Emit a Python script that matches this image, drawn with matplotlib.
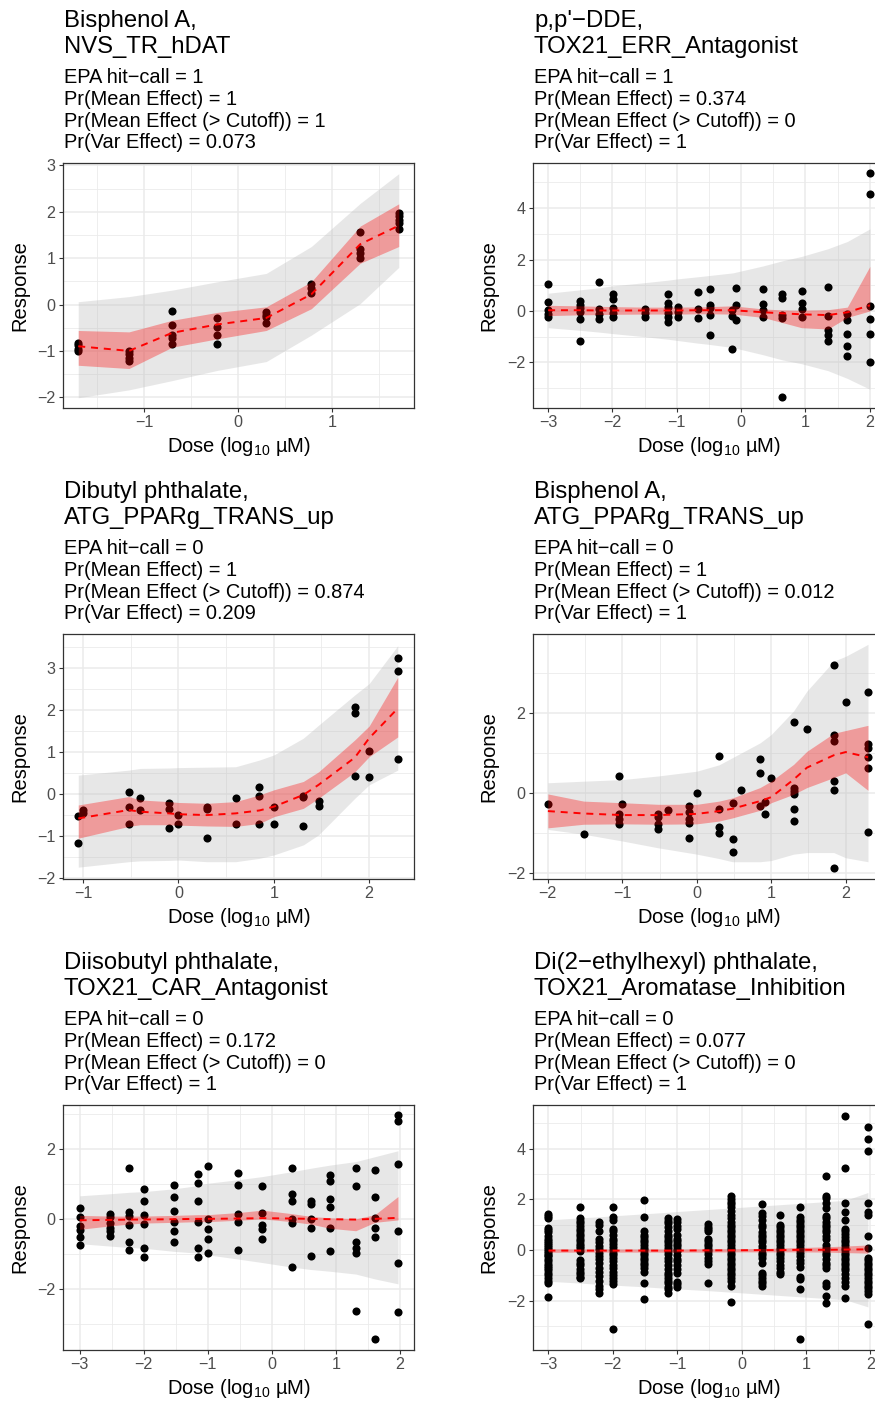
import matplotlib
matplotlib.use('Agg')
import matplotlib.pyplot as plt

plt.rcParams['font.family'] = ['Liberation Sans', 'DejaVu Sans']
plt.rcParams['mathtext.fontset'] = 'custom'
plt.rcParams['mathtext.rm'] = 'Liberation Sans'
plt.rcParams['mathtext.it'] = 'Liberation Sans:italic'
plt.rcParams['mathtext.bf'] = 'Liberation Sans:bold'
plt.rcParams['axes.unicode_minus'] = True

# ---------------- Panel 1: Bisphenol A, NVS_TR_hDAT ----------------
p1_title = ["Bisphenol A,", "NVS_TR_hDAT"]
p1_sub = ["EPA hit\u2212call = 1", "Pr(Mean Effect) = 1",
          "Pr(Mean Effect (> Cutoff)) = 1", "Pr(Var Effect) = 0.073"]
p1_levels = [-1.70, -1.16, -0.70, -0.22, 0.30, 0.78, 1.30, 1.71]
p1_resp = [[-0.82, -0.88, -0.95, -1.0],
           [-1.0, -1.07, -1.15, -1.22],
           [-0.14, -0.45, -0.65, -0.73, -0.86],
           [-0.30, -0.48, -0.66, -0.86],
           [-0.17, -0.22, -0.28, -0.40],
           [0.45, 0.36, 0.25],
           [1.56, 1.2, 1.12, 1.0],
           [1.97, 1.9, 1.82, 1.75, 1.62]]
p1_fx = [-1.70, -1.16, -0.70, -0.22, 0.30, 0.78, 1.30, 1.71]
p1_mean = [-0.90, -1.0, -0.61, -0.43, -0.29, 0.22, 1.30, 1.70]
p1_hi = [-0.56, -0.59, -0.34, -0.17, -0.05, 0.49, 1.69, 2.17]
p1_lo = [-1.31, -1.38, -0.92, -0.74, -0.56, -0.09, 0.89, 1.25]
p1_phi = [0.06, 0.17, 0.31, 0.49, 0.67, 1.25, 2.18, 2.82]
p1_plo = [-2.01, -1.84, -1.64, -1.42, -1.23, -0.66, 0.02, 0.80]

# ---------------- Panel 2: p,p'-DDE, TOX21_ERR_Antagonist ----------------
p2_title = ["p,p'\u2212DDE,", "TOX21_ERR_Antagonist"]
p2_sub = ["EPA hit\u2212call = 1", "Pr(Mean Effect) = 0.374",
          "Pr(Mean Effect (> Cutoff)) = 0", "Pr(Var Effect) = 1"]
p2_levels = [-3.0, -2.51, -2.21, -1.99, -1.50, -1.13, -0.98, -0.67, -0.49,
             -0.15, -0.08, 0.34, 0.64, 0.94, 1.35, 1.65, 2.0]
p2_resp = [[1.05, 0.35, 0.05, -0.1, -0.25],
           [0.38, 0.25, 0.1, -0.05, -0.3, -1.15],
           [1.14, 0.06, -0.12, -0.32],
           [0.65, 0.47, 0.1, -0.09, -0.22],
           [0.06, -0.09, -0.22],
           [0.66, 0.3, 0.17, -0.06, -0.22, -0.42],
           [0.17, -0.03, -0.22],
           [0.73, 0.06, -0.29],
           [0.84, 0.23, 0.1, -0.16, -0.94],
           [0.05, -0.2, -1.48],
           [0.88, 0.25, -0.35],
           [0.84, 0.27, 0.04, -0.22],
           [0.66, 0.49, -0.16, -0.29, -3.34],
           [0.78, 0.3, 0.06, -0.22],
           [0.95, -0.19, -0.74, -0.94, -1.16],
           [-0.13, -0.35, -0.91, -1.36, -1.75],
           [5.36, 4.56, 0.21, -0.32, -0.91, -1.97]]
p2_fx = [-3.0, -2.51, -2.21, -1.99, -1.5, -1.13, -0.98, -0.67, -0.49, -0.13,
         0.34, 0.64, 0.94, 1.35, 1.65, 2.0]
p2_mean = [0.03, 0.03, 0.02, 0.02, 0.02, 0.02, 0.02, 0.03, 0.03, 0.03,
           -0.05, -0.09, -0.13, -0.16, -0.05, 0.22]
p2_hi = [0.22, 0.2, 0.18, 0.17, 0.15, 0.15, 0.15, 0.16, 0.17, 0.2,
         0.08, 0.04, 0.03, 0.05, 0.15, 1.73]
p2_lo = [-0.18, -0.15, -0.14, -0.13, -0.12, -0.12, -0.12, -0.11, -0.11, -0.12,
         -0.25, -0.45, -0.65, -0.70, -0.25, 0.0]
p2_phi = [0.69, 0.82, 0.9, 0.98, 1.1, 1.2, 1.25, 1.33, 1.38, 1.48,
          1.75, 1.95, 2.12, 2.42, 2.7, 3.19]
p2_plo = [-0.65, -0.75, -0.82, -0.88, -1.0, -1.1, -1.15, -1.25, -1.3, -1.42,
          -1.7, -1.9, -2.05, -2.32, -2.62, -3.04]

# ---------------- Panel 3: Dibutyl phthalate, ATG_PPARg_TRANS_up ----------------
p3_title = ["Dibutyl phthalate,", "ATG_PPARg_TRANS_up"]
p3_sub = ["EPA hit\u2212call = 0", "Pr(Mean Effect) = 1",
          "Pr(Mean Effect (> Cutoff)) = 0.874", "Pr(Var Effect) = 0.209"]
p3_levels = [-1.05, -1.0, -0.52, -0.40, -0.10, 0.0, 0.30, 0.60, 0.85, 1.0,
             1.31, 1.47, 1.85, 2.0, 2.30]
p3_resp = [[-0.53, -1.18],
           [-0.40, -0.47],
           [0.05, -0.31, -0.73],
           [-0.10, -0.39],
           [-0.23, -0.36, -0.81],
           [-0.52, -0.73],
           [-0.31, -0.37, -1.05],
           [-0.10, -0.73],
           [0.15, -0.06, -0.73],
           [-0.31, -0.73],
           [-0.05, -0.09, -0.77],
           [-0.17, -0.29],
           [2.07, 1.91, 0.43],
           [1.01, 0.40],
           [3.22, 2.92, 0.82]]
p3_fx = [-1.05, -0.52, -0.40, -0.10, 0.0, 0.30, 0.60, 0.85, 1.0, 1.31, 1.47,
         1.85, 2.0, 2.30]
p3_mean = [-0.59, -0.39, -0.43, -0.47, -0.49, -0.51, -0.47, -0.40, -0.31,
           -0.03, 0.21, 0.86, 1.32, 2.03]
p3_hi = [-0.27, -0.07, -0.15, -0.19, -0.21, -0.23, -0.19, -0.03, 0.09, 0.29,
         0.52, 1.28, 1.61, 2.77]
p3_lo = [-1.06, -0.78, -0.74, -0.74, -0.75, -0.77, -0.78, -0.71, -0.55, -0.35,
         -0.11, 0.52, 0.88, 1.35]
p3_phi = [0.44, 0.56, 0.60, 0.61, 0.62, 0.63, 0.64, 0.80, 0.92, 1.32, 1.63,
          2.35, 2.62, 3.52]
p3_plo = [-1.75, -1.62, -1.60, -1.59, -1.58, -1.62, -1.62, -1.54, -1.46, -1.22,
          -0.98, -0.11, 0.21, 0.56]

# ---------------- Panel 4: Bisphenol A, ATG_PPARg_TRANS_up ----------------
p4_title = ["Bisphenol A,", "ATG_PPARg_TRANS_up"]
p4_sub = ["EPA hit\u2212call = 0", "Pr(Mean Effect) = 1",
          "Pr(Mean Effect (> Cutoff)) = 0.012", "Pr(Var Effect) = 1"]
p4_levels = [-2.0, -1.52, -1.04, -1.0, -0.52, -0.39, -0.10, 0.0, 0.30, 0.48,
             0.60, 0.85, 0.91, 1.0, 1.30, 1.48, 1.84, 2.0, 2.30]
p4_resp = [[-0.29],
           [-1.04],
           [0.41, -0.54, -0.65, -0.79],
           [-0.29],
           [-0.53, -0.61, -0.79, -0.90],
           [-0.44],
           [-0.33, -0.48, -0.65, -0.77, -1.14],
           [0.0],
           [0.92, -0.40, -0.86, -1.00],
           [-0.25, -1.17, -1.49],
           [0.08],
           [0.84, 0.50, -0.32],
           [-0.23, -0.53],
           [0.38],
           [1.77, 0.13, 0.04, -0.04, -0.42, -0.71],
           [1.59],
           [3.20, 1.46, 1.29, 0.29, 0.08, -1.88],
           [2.28],
           [2.53, 1.23, 1.13, 0.89, 0.61, -0.98]]
p4_fx = [-2.0, -1.52, -1.0, -0.52, 0.0, 0.30, 0.48, 0.85, 1.0, 1.30, 1.48,
         1.84, 2.0, 2.30]
p4_mean = [-0.46, -0.52, -0.56, -0.56, -0.53, -0.46, -0.40, -0.21, -0.11,
           0.33, 0.63, 0.94, 1.02, 0.89]
p4_hi = [-0.03, -0.21, -0.25, -0.29, -0.29, -0.21, -0.13, 0.13, 0.29, 0.71,
         1.04, 1.49, 1.56, 1.69]
p4_lo = [-0.88, -0.79, -0.78, -0.79, -0.78, -0.71, -0.63, -0.44, -0.25,
         -0.04, 0.13, 0.38, 0.50, 0.06]
p4_phi = [0.25, 0.29, 0.33, 0.42, 0.54, 0.70, 0.88, 1.25, 1.46, 2.05, 2.55,
          3.30, 3.42, 3.72]
p4_plo = [-0.92, -1.04, -1.21, -1.38, -1.54, -1.65, -1.73, -1.73, -1.70,
          -1.54, -1.50, -1.50, -1.63, -1.73]

# ---------------- Panel 5: Diisobutyl phthalate, TOX21_CAR_Antagonist ----------------
p5_title = ["Diisobutyl phthalate,", "TOX21_CAR_Antagonist"]
p5_sub = ["EPA hit\u2212call = 0", "Pr(Mean Effect) = 0.172",
          "Pr(Mean Effect (> Cutoff)) = 0", "Pr(Var Effect) = 1"]
p5_levels = [-3.0, -2.52, -2.23, -2.0, -1.53, -1.16, -1.0, -0.53, -0.15,
             0.31, 0.61, 0.91, 1.31, 1.61, 1.97]
p5_resp = [[0.32, 0.06, -0.2, -0.31, -0.52, -0.74],
           [0.13, 0.04, -0.12, -0.27, -0.36, -0.48],
           [1.45, 0.19, 0.07, -0.17, -0.65, -0.89],
           [0.85, 0.52, 0.10, -0.14, -0.84, -1.10],
           [0.97, 0.64, 0.23, -0.10, -0.36, -0.65],
           [1.29, 1.02, 0.50, -0.10, -0.82, -1.08],
           [1.51, 0.0, -0.29, -0.58, -0.98],
           [1.32, 0.97, 0.13, -0.10, -0.89],
           [0.95, 0.16, -0.17, -0.30, -0.57],
           [1.47, 0.70, 0.50, 0.0, -0.12, -1.39],
           [0.50, 0.42, -0.01, -0.27, -1.05],
           [1.26, 1.07, 0.56, 0.35, -0.27, -0.91],
           [1.47, 0.94, -0.65, -0.84, -0.98, -2.65],
           [1.39, 0.62, 0.02, -0.27, -0.53, -3.43],
           [2.97, 2.80, 1.56, -0.34, -1.25, -2.67]]
p5_fx = [-3.0, -2.52, -2.23, -2.0, -1.53, -1.16, -1.0, -0.53, -0.15, 0.31,
         0.61, 0.91, 1.31, 1.61, 1.97]
p5_mean = [-0.04, -0.03, -0.02, -0.02, -0.01, 0.0, 0.0, 0.01, 0.02, 0.01,
           0.0, -0.01, -0.02, 0.0, 0.03]
p5_hi = [0.10, 0.08, 0.08, 0.08, 0.10, 0.12, 0.12, 0.18, 0.25, 0.15, 0.07,
         0.03, 0.0, 0.12, 0.64]
p5_lo = [-0.30, -0.20, -0.15, -0.12, -0.10, -0.08, -0.08, -0.04, 0.0, -0.08,
         -0.15, -0.27, -0.34, -0.10, -0.03]
p5_phi = [0.66, 0.72, 0.76, 0.78, 0.86, 0.95, 1.02, 1.12, 1.21, 1.35, 1.45,
          1.54, 1.64, 1.78, 1.95]
p5_plo = [-0.71, -0.78, -0.82, -0.84, -0.93, -0.98, -1.03, -1.15, -1.25,
          -1.38, -1.45, -1.50, -1.58, -1.72, -1.86]

# ---------------- Panel 6: Di(2-ethylhexyl) phthalate, TOX21_Aromatase_Inhibition ----------------
p6_title = ["Di(2\u2212ethylhexyl) phthalate,", "TOX21_Aromatase_Inhibition"]
p6_sub = ["EPA hit\u2212call = 0", "Pr(Mean Effect) = 0.077",
          "Pr(Mean Effect (> Cutoff)) = 0", "Pr(Var Effect) = 1"]
p6_levels = [-3.0, -2.51, -2.22, -2.0, -1.51, -1.15, -1.0, -0.52, -0.16, 0.31,
             0.60, 0.90, 1.31, 1.61, 1.96]
p6_resp = [
    [1.42, 1.35, 1.28, 0.88, 0.8, 0.7, 0.55, 0.45, 0.35, 0.28, 0.2, 0.12, 0.05,
     -0.02, -0.1, -0.18, -0.25, -0.35, -0.45, -0.55, -0.62, -0.7, -0.8, -0.9,
     -1.0, -1.1, -1.2, -1.3, -1.86],
    [1.69, 1.25, 1.15, 1.05, 0.95, 0.85, 0.75, 0.65, 0.55, 0.45, 0.35, 0.25,
     0.15, 0.08, -0.05, -0.4, -0.5, -0.6, -0.75, -0.85, -0.95, -1.05, -1.12],
    [1.09, 0.98, 0.75, 0.45, 0.3, 0.15, 0.05, -0.1, -0.25, -0.35, -0.5, -0.7,
     -0.85, -1.04, -1.2, -1.4, -1.55, -1.69],
    [1.68, 1.3, 1.2, 0.85, 0.75, 0.6, 0.45, 0.35, 0.25, 0.12, 0.0, -0.1, -0.2,
     -0.3, -0.45, -0.6, -0.7, -0.85, -1.0, -1.1, -1.2, -1.35, -3.13],
    [1.98, 1.32, 0.75, 0.6, 0.5, 0.4, 0.3, 0.2, 0.1, 0.0, -0.1, -0.2, -0.3,
     -0.4, -0.5, -0.6, -0.7, -0.85, -1.3, -1.92],
    [1.25, 1.15, 1.05, 0.9, 0.75, 0.6, 0.5, 0.4, 0.3, 0.2, 0.1, -0.05, -0.15,
     -0.3, -0.45, -0.6, -0.75, -0.9, -1.0, -1.1, -1.2, -1.3, -1.45, -1.55, -1.7],
    [1.22, 1.12, 0.95, 0.85, 0.6, 0.45, 0.35, 0.25, 0.15, 0.05, -0.05, -0.2,
     -0.35, -0.45, -0.6, -0.75, -0.9, -1.25, -1.35, -1.45],
    [1.02, 0.92, 0.85, 0.75, 0.45, 0.35, 0.25, 0.15, 0.05, -0.05, -0.15, -0.3,
     -0.45, -0.55, -1.3],
    [2.12, 2.0, 1.9, 1.8, 1.7, 1.55, 1.4, 1.25, 1.1, 1.0, 0.9, 0.8, 0.7, 0.6,
     0.5, 0.4, 0.3, 0.2, 0.1, 0.0, -0.1, -0.2, -0.3, -0.4, -0.5, -0.6, -0.7,
     -0.8, -0.9, -1.0, -1.1, -1.2, -1.4, -2.05],
    [1.82, 1.45, 1.35, 1.2, 1.0, 0.9, 0.7, 0.6, 0.5, 0.4, 0.3, 0.15, 0.05, -0.1,
     -0.2, -0.3, -0.5, -0.9, -1.0, -1.1, -1.2, -1.3, -1.4],
    [1.37, 1.0, 0.9, 0.8, 0.7, 0.6, 0.5, 0.4, 0.3, 0.2, 0.1, 0.0, -0.1, -0.2,
     -0.3, -0.45, -0.6, -0.7, -0.85, -0.95],
    [1.68, 1.3, 1.2, 1.1, 1.0, 0.9, 0.8, 0.7, 0.6, 0.5, 0.4, 0.3, 0.2, 0.1, 0.0,
     -0.1, -0.25, -0.4, -0.5, -0.65, -1.05, -1.15, -1.55, -3.5],
    [2.94, 2.15, 2.05, 1.85, 1.65, 1.35, 1.25, 1.1, 1.0, 0.9, 0.8, 0.7, 0.55,
     0.45, 0.2, 0.1, 0.0, -0.1, -0.2, -0.35, -0.5, -0.6, -0.7, -1.3, -1.4, -1.8,
     -2.1],
    [5.30, 3.25, 1.85, 1.5, 1.2, 0.85, 0.75, 0.65, 0.5, 0.4, 0.3, 0.2, 0.1, 0.0,
     -0.1, -0.2, -0.3, -0.4, -0.5, -0.6, -0.7, -0.8, -0.95, -1.1, -1.25, -1.4,
     -1.9],
    [4.87, 4.37, 3.91, 1.85, 1.5, 1.38, 0.54, 0.08, -0.3, -0.4, -0.5, -0.6,
     -0.7, -0.8, -0.9, -1.0, -1.1, -1.2, -1.3, -1.4, -1.5, -1.6, -1.75, -2.91]]
p6_fx = [-3.0, -2.51, -2.22, -2.0, -1.51, -1.15, -1.0, -0.52, -0.16, 0.31,
         0.60, 0.90, 1.31, 1.61, 1.96]
p6_mean = [-0.02, -0.02, -0.02, -0.02, -0.02, -0.02, -0.02, -0.01, -0.01, 0.0,
           0.0, 0.01, 0.01, 0.02, 0.03]
p6_hi = [0.05, 0.04, 0.04, 0.04, 0.04, 0.04, 0.04, 0.05, 0.05, 0.06, 0.08,
         0.10, 0.13, 0.16, 0.20]
p6_lo = [-0.09, -0.08, -0.08, -0.08, -0.08, -0.08, -0.08, -0.08, -0.07,
         -0.07, -0.07, -0.07, -0.08, -0.10, -0.12]
p6_phi = [1.19, 1.27, 1.31, 1.35, 1.43, 1.49, 1.52, 1.60, 1.66, 1.74, 1.79,
          1.84, 1.91, 1.96, 2.27]
p6_plo = [-1.23, -1.30, -1.35, -1.38, -1.45, -1.51, -1.53, -1.60, -1.66,
          -1.74, -1.79, -1.84, -1.91, -1.96, -2.24]

W, H = 875, 1403
fig = plt.figure(figsize=(W / 100, H / 100), dpi=100)

AX_W, AX_H = 351, 244.5
COL_LEFT = [63, 533]
ROW_TOP = [163, 634, 1105]

TITLE_FS = 17.2
SUB_FS = 14.4
LAB_FS = 14.5
TICK_FS = 11.6


def fx_(px):
    return px / W


def fy_(py):
    return 1 - py / H


def panel(col, row, title, sub, levels, resp, fitx, mean, lo, hi, plo, phi,
          xlim, ylim, xticks, yticks, xminor, yminor):
    left = COL_LEFT[col]
    top = ROW_TOP[row]
    ax = fig.add_axes([fx_(left), fy_(top + AX_H), AX_W / W, AX_H / H])
    ax.set_axisbelow(True)
    ax.set_xlim(*xlim)
    ax.set_ylim(*ylim)
    ax.set_xticks(xticks)
    ax.set_yticks(yticks)
    ax.set_xticks(xminor, minor=True)
    ax.set_yticks(yminor, minor=True)
    ax.grid(which='major', color='#EBEBEB', lw=1.1)
    ax.grid(which='minor', color='#EBEBEB', lw=0.6)
    ax.tick_params(which='minor', length=0)
    ax.tick_params(which='major', length=3.0, width=0.8, color='#333333',
                   labelcolor='#4D4D4D', labelsize=TICK_FS)
    ax.tick_params(axis='x', pad=2.6)
    ax.tick_params(axis='y', pad=2.4)
    for s in ax.spines.values():
        s.set_color('#333333')
        s.set_linewidth(0.9)
    # prediction band
    ax.fill_between(fitx, plo, phi, color='#BEBEBE', alpha=0.36, lw=0, zorder=1)
    # points
    xs, ys = [], []
    for lv, rr in zip(levels, resp):
        for r in rr:
            xs.append(lv)
            ys.append(r)
    ax.scatter(xs, ys, s=34, c='black', linewidths=0, zorder=2)
    # mean credible band
    ax.fill_between(fitx, lo, hi, color='red', alpha=0.33, lw=0, zorder=3)
    ax.plot(fitx, mean, color='red', lw=1.4, ls=(0, (3.6, 3.0)), zorder=4)

    # titles
    tx = left + 1
    fig.text(fx_(tx), fy_(top - 136.3), title[0], fontsize=TITLE_FS, va='baseline')
    fig.text(fx_(tx), fy_(top - 109.7), title[1], fontsize=TITLE_FS, va='baseline')
    for i, line in enumerate(sub):
        fig.text(fx_(tx), fy_(top - 79.7 + 21.7 * i), line, fontsize=SUB_FS,
                 va='baseline')
    # axis labels
    ylab_x = 20 if col == 0 else 489
    fig.text(fx_(ylab_x), fy_(top + AX_H / 2), 'Response', rotation=90,
             fontsize=LAB_FS, ha='center', va='center')
    fig.text(fx_(left + AX_W / 2), fy_(top + AX_H + 44.4),
             r'Dose (log$_{\mathregular{10}}$ µM)', fontsize=LAB_FS,
             ha='center', va='baseline')
    return ax


panel(0, 0, p1_title, p1_sub, p1_levels, p1_resp, p1_fx, p1_mean, p1_lo, p1_hi,
      p1_plo, p1_phi, (-1.862, 1.872), (-2.22, 3.05), [-1, 0, 1],
      [-2, -1, 0, 1, 2, 3], [-1.5, -0.5, 0.5, 1.5],
      [-1.5, -0.5, 0.5, 1.5, 2.5])
panel(1, 0, p2_title, p2_sub, p2_levels, p2_resp, p2_fx, p2_mean, p2_lo, p2_hi,
      p2_plo, p2_phi, (-3.235, 2.22), (-3.75, 5.75), [-3, -2, -1, 0, 1, 2],
      [-2, 0, 2, 4], [-2.5, -1.5, -0.5, 0.5, 1.5], [-3, -1, 1, 3, 5])
panel(0, 1, p3_title, p3_sub, p3_levels, p3_resp, p3_fx, p3_mean, p3_lo, p3_hi,
      p3_plo, p3_phi, (-1.21, 2.47), (-2.02, 3.80), [-1, 0, 1, 2],
      [-2, -1, 0, 1, 2, 3], [-0.5, 0.5, 1.5], [-1.5, -0.5, 0.5, 1.5, 2.5, 3.5])
panel(1, 1, p4_title, p4_sub, p4_levels, p4_resp, p4_fx, p4_mean, p4_lo, p4_hi,
      p4_plo, p4_phi, (-2.20, 2.515), (-2.15, 3.98), [-2, -1, 0, 1, 2],
      [-2, 0, 2], [-1.5, -0.5, 0.5, 1.5, 2.5], [-1, 1, 3])
panel(0, 2, p5_title, p5_sub, p5_levels, p5_resp, p5_fx, p5_mean, p5_lo, p5_hi,
      p5_plo, p5_phi, (-3.26, 2.22), (-3.74, 3.26), [-3, -2, -1, 0, 1, 2],
      [-2, 0, 2], [-2.5, -1.5, -0.5, 0.5, 1.5], [-3, -1, 1, 3])
panel(1, 2, p6_title, p6_sub, p6_levels, p6_resp, p6_fx, p6_mean, p6_lo, p6_hi,
      p6_plo, p6_phi, (-3.24, 2.21), (-3.92, 5.72), [-3, -2, -1, 0, 1, 2],
      [-2, 0, 2, 4], [-2.5, -1.5, -0.5, 0.5, 1.5], [-3, -1, 1, 3, 5])

fig.savefig('out.png', dpi=100)
